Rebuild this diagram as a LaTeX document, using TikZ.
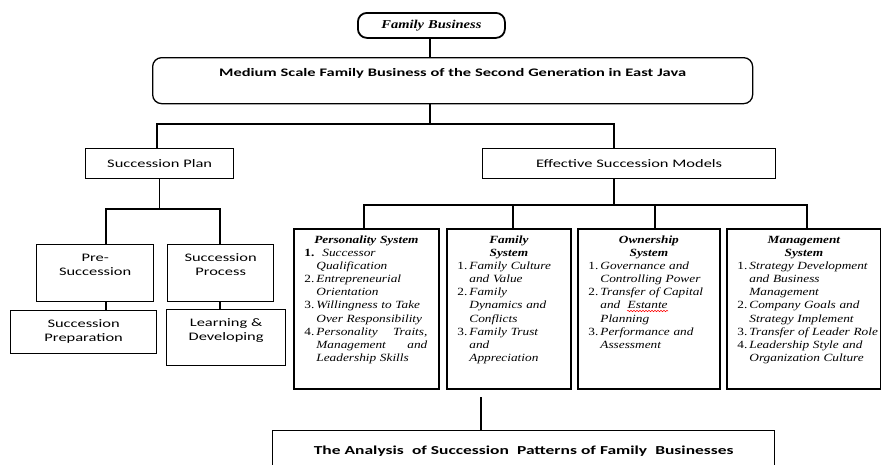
\documentclass[tikz,border=0pt]{standalone}
\usepackage{fontspec}
\usetikzlibrary{decorations.pathmorphing}
\newfontfamily\calfont[FakeStretch=1.43]{Carlito}
\newfontfamily\tmsfont[FakeStretch=1.21]{Liberation Serif}

\newcommand{\numitem}[2]{\makebox[12pt][l]{\upshape #1}\mbox{#2}}
\newcommand{\moreitem}[1]{\hspace*{12pt}\mbox{#1}}

\tikzset{
  link/.style={line width=1.4pt},
  plainbox/.style={draw, line width=1.3pt, anchor=north west, inner sep=0pt, align=center,
    font=\calfont\fontsize{11.5}{14}\selectfont},
  roundbox/.style={plainbox, rounded corners=9pt},
  sysbox/.style={draw, line width=1.8pt, anchor=north west, inner xsep=10.5pt, inner ysep=0pt,
    align=left, text height=14.5pt, text depth=145.5pt,
    font=\tmsfont\itshape\fontsize{11}{13.1}\selectfont},
}

\begin{document}
\begin{tikzpicture}[x=1pt,y=-1pt]
\useasboundingbox (0,0) rectangle (881,464);

% top of the chart
\node[roundbox, line width=1.8pt, text width=147pt, text height=16pt, text depth=9pt,
  font=\tmsfont\bfseries\itshape\fontsize{12}{14}\selectfont] (fb) at (357,12) {Family Business};
\node[roundbox, text width=600pt, text height=19pt, text depth=27pt,
  font=\calfont\bfseries\fontsize{11.5}{14}\selectfont] (ms) at (152,57)
  {Medium Scale Family Business of the Second Generation in East Java};
\node[plainbox, text width=148pt, text height=19pt, text depth=11pt] (sp) at (85,148) {Succession Plan};
\node[plainbox, text width=293pt, text height=19pt, text depth=11pt] (esm) at (482,148) {Effective Succession Models};

% succession plan side
\node[plainbox, text width=117pt, text height=17pt, text depth=40pt] (pre) at (36,244) {Pre-\\Succession};
\node[plainbox, text width=106pt, text height=17pt, text depth=40pt] (proc) at (167,244) {Succession\\Process};
\node[plainbox, text width=146pt, text height=17pt, text depth=26pt] (prep) at (10,310) {Succession\\Preparation};
\node[plainbox, text width=119pt, text height=17pt, text depth=39pt] (learn) at (166,309) {Learning \&\\Developing};

% the four systems
\node[sysbox, text width=124pt] (pers) at (293,228) {%
  \makebox[\linewidth]{\bfseries Personality System}\\
  \numitem{\bfseries 1.}{\hspace{6pt}Successor}\\
  \moreitem{Qualification}\\
  \numitem{2.}{Entrepreneurial}\\
  \moreitem{Orientation}\\
  \numitem{3.}{Willingness to Take}\\
  \moreitem{Over Responsibility}\\
  \numitem{4.}{\makebox[111pt][l]{Personality\hfill Traits,}}\\
  \moreitem{\makebox[111pt][l]{Management\hfill and}}\\
  \moreitem{Leadership Skills}};
\node[sysbox, text width=103pt] (fam) at (446,228) {%
  \makebox[\linewidth]{\bfseries Family}\\
  \makebox[\linewidth]{\bfseries System}\\
  \numitem{1.}{Family Culture}\\
  \moreitem{and Value}\\
  \numitem{2.}{Family}\\
  \moreitem{Dynamics and}\\
  \moreitem{Conflicts}\\
  \numitem{3.}{Family Trust}\\
  \moreitem{and}\\
  \moreitem{Appreciation}};
\node[sysbox, text width=121pt] (own) at (577,228) {%
  \makebox[\linewidth]{\bfseries Ownership}\\
  \makebox[\linewidth]{\bfseries System}\\
  \numitem{1.}{Governance and}\\
  \moreitem{Controlling Power}\\
  \numitem{2.}{Transfer of Capital}\\
  \moreitem{and\ \ Estante}\\
  \moreitem{Planning}\\
  \numitem{3.}{Performance and}\\
  \moreitem{Assessment}};
\node[sysbox, text width=133pt] (mgmt) at (726,228) {%
  \makebox[\linewidth]{\bfseries Management}\\
  \makebox[\linewidth]{\bfseries System}\\
  \numitem{1.}{Strategy Development}\\
  \moreitem{and Business}\\
  \moreitem{Management}\\
  \numitem{2.}{Company Goals and}\\
  \moreitem{Strategy Implement}\\
  \numitem{3.}{Transfer of Leader Role}\\
  \numitem{4.}{Leadership Style and}\\
  \moreitem{Organization Culture}};
\draw[red, line width=0.5pt, decorate, decoration={snake, amplitude=0.7pt, segment length=3pt}]
  (627,311) -- (668,311);

\node[plainbox, text width=502pt, text height=24pt, text depth=40pt,
  font=\calfont\bfseries\fontsize{12.2}{14}\selectfont] (an) at (272,430)
  {The Analysis\ \ of Succession\ \ Patterns of Family\ \ Businesses};

% connectors
\coordinate (j1) at (157,124);
\coordinate (j2) at (614,124);
\coordinate (k1) at (106,209);
\coordinate (k2) at (220,209);
\coordinate (m1) at (364,205);
\coordinate (m2) at (513,205);
\coordinate (m3) at (655,205);
\coordinate (m4) at (807,205);
\coordinate (n1) at (481,397);
\draw[link] (fb.south -| 430,0) -- (ms.north -| 430,0);
\draw[link] (ms.south -| 430,0) -- (430,124);
\draw[link] (j1 |- sp.north) -- (j1) -- (j2) -- (j2 |- esm.north);
\draw[link] (sp.south) -- (sp.south |- k1);
\draw[link] (k1 |- pre.north) -- (k1) -- (k2) -- (k2 |- proc.north);
\draw[link] (k1 |- pre.south) -- (k1 |- prep.north);
\draw[link] (k2 |- proc.south) -- (k2 |- learn.north);
\draw[link] (j2 |- esm.south) -- (j2 |- m1);
\draw[link] (m1 |- pers.north) -- (m1) -- (m4) -- (m4 |- mgmt.north);
\draw[link] (m2) -- (m2 |- fam.north);
\draw[link] (m3) -- (m3 |- own.north);
\draw[link] (n1) -- (n1 |- an.north);
\end{tikzpicture}
\end{document}
